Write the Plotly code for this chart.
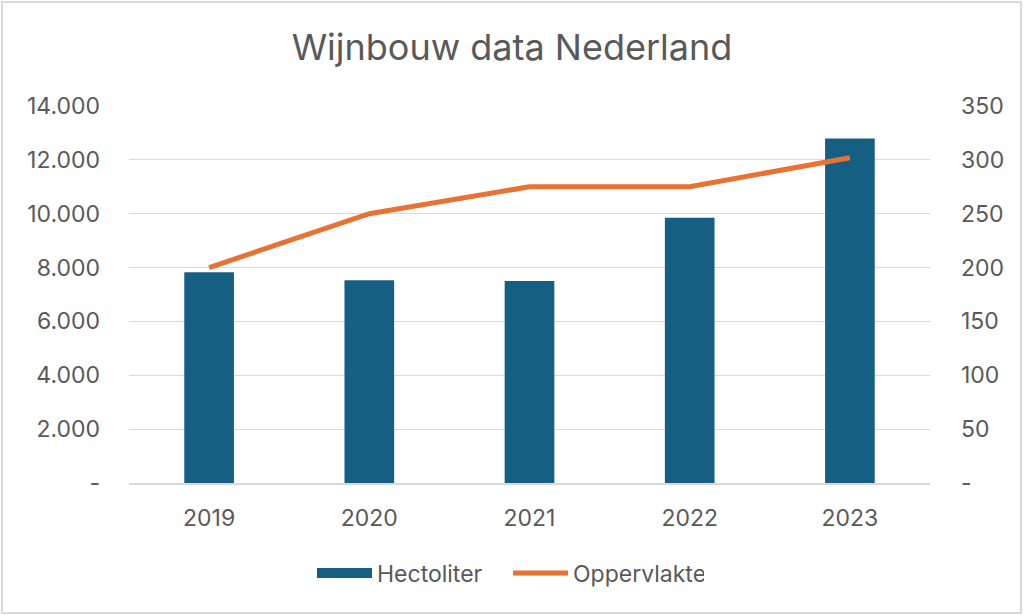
import plotly.graph_objects as go

# data
years = ["2019", "2020", "2021", "2022", "2023"]
hectoliter = [7830, 7530, 7500, 9850, 12790]
oppervlakte = [200, 250, 275, 275, 302]

left_ticks = [0, 2000, 4000, 6000, 8000, 10000, 12000, 14000]
left_labels = ["-", "2.000", "4.000", "6.000", "8.000", "10.000", "12.000", "14.000"]
right_ticks = [0, 50, 100, 150, 200, 250, 300, 350]
right_labels = ["-", "50", "100", "150", "200", "250", "300", "350"]

txt = "#595959"
fnt = "Inter"
blue = "#156082"
orange = "#E97132"

W, H = 1024, 615
L, R, T, B = 129, 94, 106, 132
pw, ph = W - L - R, H - T - B


def px_x(p):
    return (p - L) / pw


def px_y(p):
    return (H - B - p) / ph


fig = go.Figure()
fig.add_trace(go.Bar(x=years, y=hectoliter, name="Hectoliter", showlegend=False,
                     marker=dict(color=blue, line=dict(width=0))))
# legend-only entry so the swatch is a wide block like in Excel
fig.add_trace(go.Scatter(x=[None], y=[None], name="Hectoliter", mode="lines",
                         line=dict(color=blue, width=13)))
fig.add_trace(go.Scatter(x=years, y=oppervlakte, name="Oppervlakte", yaxis="y2",
                         mode="lines", line=dict(color=orange, width=5)))

fig.update_layout(
    width=W, height=H,
    margin=dict(l=L, r=R, t=T, b=B),
    paper_bgcolor="white", plot_bgcolor="white",
    font=dict(family=fnt, color=txt, size=23),
    title=dict(text="Wijnbouw data Nederland", x=0.5, xanchor="center",
               y=1 - 47 / H, yanchor="middle",
               font=dict(size=36, color=txt, family=fnt)),
    bargap=0.69,
    showlegend=True,
    legend=dict(orientation="h", x=px_x(508), xanchor="center", y=px_y(573), yanchor="middle",
                font=dict(size=23, color=txt), traceorder="normal", itemwidth=55,
                entrywidth=126, entrywidthmode="pixels"),
    xaxis=dict(showgrid=False, showline=True, linecolor="#d9d9d9", linewidth=1.5,
               ticks="", ticklabelstandoff=14, tickfont=dict(size=23)),
    yaxis=dict(range=[0, 14000], tickvals=left_ticks, ticktext=left_labels,
               showgrid=True, gridcolor="#d9d9d9", gridwidth=1, zeroline=False,
               ticklabelstandoff=28, tickfont=dict(size=23)),
    yaxis2=dict(range=[0, 350], tickvals=right_ticks, ticktext=right_labels,
                overlaying="y", side="right", showgrid=False, zeroline=False,
                ticklabelstandoff=30, tickfont=dict(size=23)),
    shapes=[dict(type="rect", xref="paper", yref="paper",
                 x0=px_x(2), x1=px_x(1021), y0=px_y(613), y1=px_y(2),
                 line=dict(color="#d9d9d9", width=2))],
)

fig.write_html("out.html", config=dict(displayModeBar=False),
               post_script="document.body.style.margin='0';")
